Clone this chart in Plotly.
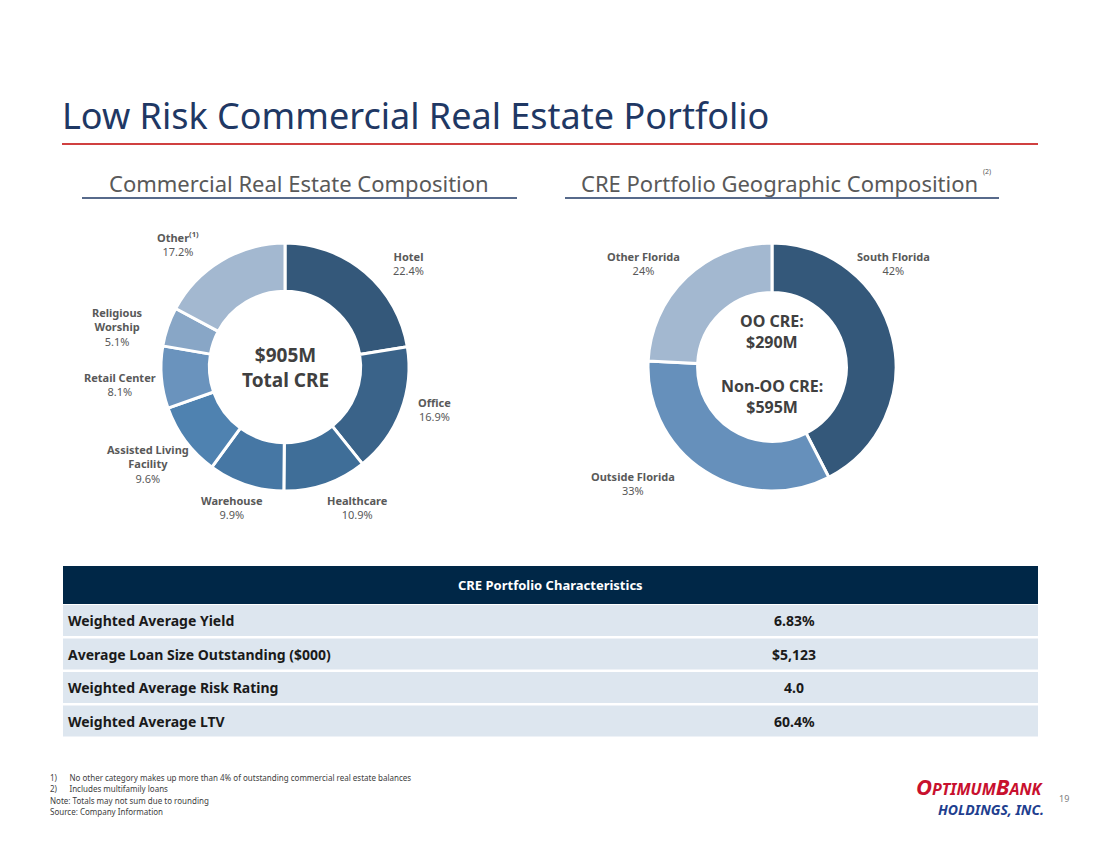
import plotly.graph_objects as go

W, H = 1100, 849
OFF = 8  # page body margin in the browser

# ── Data ────────────────────────────────────────────────────
cre_labels = ["Hotel", "Office", "Healthcare", "Warehouse", "Assisted Living<br>Facility",
              "Retail Center", "Religious<br>Worship", "Other<sup>(1)</sup>"]
cre_values = [22.4, 16.9, 10.9, 9.9, 9.6, 8.1, 5.1, 17.2]
cre_colors = ["#34587a", "#3a6389", "#3f6e98", "#4677a4", "#4f82b0", "#6a93bd", "#88a6c6", "#a3b8d0"]
cre_label_pos = [(408, 263), (434, 409), (357, 508), (232, 508), (148, 464), (120, 384), (117, 327), (178, 244)]

geo_labels = ["South Florida", "Outside Florida", "Other Florida"]
geo_values = [42, 33, 24]
geo_colors = ["#34587a", "#6690bb", "#a3b8d0"]
geo_label_pos = [(893, 264), (633, 483), (643, 263)]

table_rows = ["Weighted Average Yield", "Average Loan Size Outstanding ($000)",
              "Weighted Average Risk Rating", "Weighted Average LTV"]
table_vals = ["6.83%", "$5,123", "4.0", "60.4%"]

footnotes = ["1)&nbsp;&nbsp;&nbsp;&nbsp;&nbsp;&nbsp;No other category makes up more than 4% of outstanding commercial real estate balances",
             "2)&nbsp;&nbsp;&nbsp;&nbsp;&nbsp;&nbsp;Includes multifamily loans",
             "Note: Totals may not sum due to rounding",
             "Source: Company Information"]

FONT = "Noto Sans"
TXT = "#404040"


def px(x):
    return (x - OFF) / W


def py(y):
    return 1 - (y - OFF) / H


fig = go.Figure()
fig.add_trace(go.Pie(
    values=cre_values, labels=cre_labels, hole=0.61, sort=False, direction="clockwise",
    rotation=0, marker=dict(colors=cre_colors, line=dict(color="white", width=3)),
    textinfo="none", hoverinfo="label+value", showlegend=False,
    domain=dict(x=[px(161), px(409)], y=[py(491), py(243)]),
))
fig.add_trace(go.Pie(
    values=geo_values, labels=geo_labels, hole=0.6, sort=False, direction="clockwise",
    rotation=0, marker=dict(colors=geo_colors, line=dict(color="white", width=3)),
    textinfo="none", hoverinfo="label+value", showlegend=False,
    domain=dict(x=[px(648), px(896)], y=[py(491), py(243)]),
))

ann = []
shapes = []


def text(x, y, t, size=12, color=TXT, bold=False, xanchor="center", family=FONT, **kw):
    if bold:
        t = f"<b>{t}</b>"
    ann.append(dict(x=px(x), y=py(y), xref="paper", yref="paper", text=t, showarrow=False,
                    xanchor=xanchor, yanchor="middle", font=dict(size=size, color=color, family=family), **kw))


def rect(x0, y0, x1, y1, color):
    shapes.append(dict(type="rect", xref="paper", yref="paper", x0=px(x0), x1=px(x1),
                       y0=py(y1), y1=py(y0), fillcolor=color, line=dict(width=0), layer="below"))


def line(x0, y0, x1, y1, color, width):
    shapes.append(dict(type="line", xref="paper", yref="paper", x0=px(x0), x1=px(x1),
                       y0=py(y0), y1=py(y1), line=dict(color=color, width=width)))


# title and headers
text(60, 115, "Low Risk Commercial Real Estate Portfolio", size=36, color="#1f3864", xanchor="left")
line(62, 144, 1038, 144, "#c00000", 1.5)
text(299, 183, "Commercial Real Estate Composition", size=22, color="#595959")
line(82, 198, 517, 198, "#1f3864", 1.5)
text(779, 183, "CRE Portfolio Geographic Composition", size=22, color="#595959")
text(987, 171, "(2)", size=7, color="#595959")
line(565, 198, 999, 198, "#1f3864", 1.5)

# donut labels
for lab, v, (x, y) in zip(cre_labels, cre_values, cre_label_pos):
    text(x, y, f"<b>{lab}</b><br>{v:.1f}%", size=11, color="#595959")
for lab, v, (x, y) in zip(geo_labels, geo_values, geo_label_pos):
    text(x, y, f"<b>{lab}</b><br>{v}%", size=11, color="#595959")
text(285, 367, "$905M<br>Total CRE", size=19, color="#404040", bold=True)
text(772, 331, "OO CRE:<br>$290M", size=16, color="#404040", bold=True)
text(772, 397, "Non-OO CRE:<br>$595M", size=16, color="#404040", bold=True)

# table
rect(63, 566, 1038, 604, "#002747")
text(550, 585, "CRE Portfolio Characteristics", size=13, color="white", bold=True)
row_h = 33.5
for i, (r, v) in enumerate(zip(table_rows, table_vals)):
    y0 = 605 + i * row_h
    rect(63, y0, 1038, y0 + row_h - 2.5, "#dde6ef")
    text(66, y0 + 15.5, r, size=14, color="#1a1a1a", bold=True, xanchor="left")
    text(794, y0 + 15.5, v, size=14, color="#1a1a1a", bold=True)

# footnotes
for i, f in enumerate(footnotes):
    text(48, 777 + i * 11.5, f, size=8, color="#404040", xanchor="left")

# logo
text(1046, 786, "<i><b>O<span style='font-size:16px'>PTIMUM</span>B<span style='font-size:16px'>ANK</span></b></i>",
     size=22, color="#c8102e", xanchor="right")
text(1046, 809, "<i><b>HOLDINGS, INC.</b></i>", size=14, color="#1f3f8f", xanchor="right")
text(1064, 798, "19", size=9, color="#808080")

fig.update_layout(width=W, height=H, margin=dict(l=0, r=0, t=0, b=0),
                  paper_bgcolor="white", plot_bgcolor="white",
                  annotations=ann, shapes=shapes)
fig.write_html("out.html")
